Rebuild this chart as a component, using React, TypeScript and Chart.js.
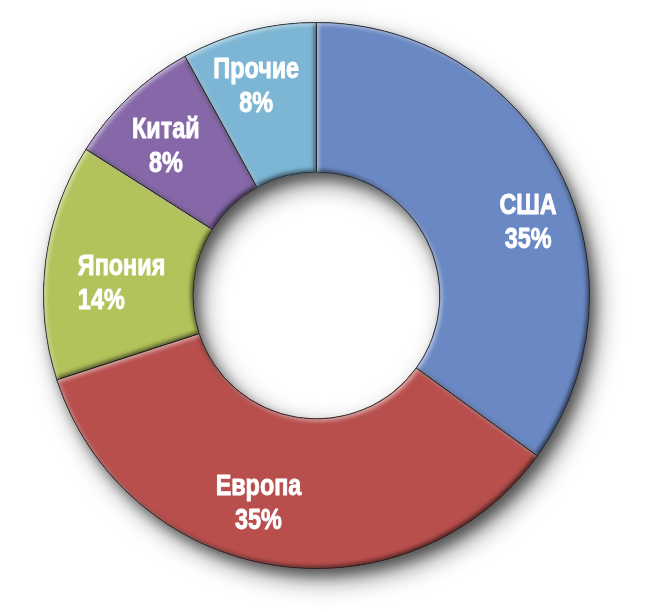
import React, { useEffect, useRef } from "react";
import { Chart, registerables } from "chart.js";

Chart.register(...registerables);

// ---- data ----
const categories = ["США", "Европа", "Япония", "Китай", "Прочие"];
const shares = [35, 35, 14, 8, 8];
const shareLabels = ["35%", "35%", "14%", "8%", "8%"];

// ---- styles ----
const sliceColors = ["#6A88C4", "#B84F4D", "#B3C25A", "#8668A8", "#7CB6D4"];
const sliceEdges = ["#3F5B8F", "#7C302E", "#6E7B2C", "#55406F", "#4B8099"];
const labelNudgeX = [35, -27, -42, -15, -11];
const labelNudgeY = [15, 10, 11, -7, -19];
const labelAlign: CanvasTextAlign[] = ["center", "center", "left", "center", "center"];
const LABEL_FONT = 'bold 30px "Liberation Sans", Arial, sans-serif';
const LABEL_SQUEEZE = 0.78;

function arcPath(ctx: CanvasRenderingContext2D, p: any) {
  ctx.moveTo(p.x + p.outerRadius * Math.cos(p.startAngle), p.y + p.outerRadius * Math.sin(p.startAngle));
  ctx.arc(p.x, p.y, p.outerRadius, p.startAngle, p.endAngle);
  ctx.arc(p.x, p.y, p.innerRadius, p.endAngle, p.startAngle, true);
  ctx.closePath();
}

const shadowRing = {
  id: "shadowRing",
  beforeDatasetsDraw(chart: any) {
    const meta = chart.getDatasetMeta(0);
    if (!meta.data.length) return;
    const p = meta.data[0].getProps(["x", "y", "innerRadius", "outerRadius"], true);
    const ctx: CanvasRenderingContext2D = chart.ctx;
    for (let k = 0; k < 2; k++) {
      ctx.save();
      ctx.beginPath();
      ctx.arc(p.x, p.y, p.outerRadius, 0, Math.PI * 2);
      ctx.moveTo(p.x + p.innerRadius, p.y);
      ctx.arc(p.x, p.y, p.innerRadius, 0, Math.PI * 2, true);
      ctx.shadowColor = k === 0 ? "rgba(0,0,0,0.5)" : "rgba(0,0,0,0.4)";
      ctx.shadowBlur = k === 0 ? 24 : 12;
      ctx.shadowOffsetX = k === 0 ? 8 : 5;
      ctx.shadowOffsetY = k === 0 ? 11 : 7;
      ctx.fillStyle = "#999";
      ctx.fill("evenodd");
      ctx.restore();
    }
  },
};

const bevel = {
  id: "bevel",
  afterDatasetsDraw(chart: any) {
    const meta = chart.getDatasetMeta(0);
    const ctx: CanvasRenderingContext2D = chart.ctx;
    meta.data.forEach((el: any) => {
      const p = el.getProps(["x", "y", "startAngle", "endAngle", "innerRadius", "outerRadius"], true);
      const passes = [
        { c: "rgba(0,0,0,0.6)", dx: -2, dy: -2, b: 4 },
        { c: "rgba(255,255,255,0.55)", dx: 2, dy: 2, b: 4 },
      ];
      passes.forEach((ps) => {
        ctx.save();
        ctx.beginPath();
        arcPath(ctx, p);
        ctx.clip();
        ctx.beginPath();
        ctx.rect(-2000, -2000, 5000, 5000);
        arcPath(ctx, p);
        ctx.shadowColor = ps.c;
        ctx.shadowBlur = ps.b;
        ctx.shadowOffsetX = ps.dx;
        ctx.shadowOffsetY = ps.dy;
        ctx.fillStyle = "#000";
        ctx.fill("evenodd");
        ctx.restore();
      });
      ctx.save();
      ctx.beginPath();
      arcPath(ctx, p);
      ctx.lineWidth = 1;
      ctx.strokeStyle = "rgba(40,40,40,0.55)";
      ctx.stroke();
      ctx.restore();
    });
  },
};

const sliceLabels = {
  id: "sliceLabels",
  afterDraw(chart: any) {
    const meta = chart.getDatasetMeta(0);
    const ctx: CanvasRenderingContext2D = chart.ctx;
    meta.data.forEach((el: any, i: number) => {
      const pos = el.tooltipPosition(true);
      const cx = pos.x + labelNudgeX[i];
      const cy = pos.y + labelNudgeY[i];
      const lines = [categories[i], shareLabels[i]];
      lines.forEach((txt, j) => {
        ctx.save();
        ctx.font = LABEL_FONT;
        ctx.fillStyle = "#ffffff";
        ctx.strokeStyle = "#ffffff";
        ctx.lineWidth = 0.9;
        ctx.lineJoin = "round";
        ctx.textBaseline = "alphabetic";
        ctx.textAlign = labelAlign[i];
        ctx.translate(cx, cy + (j === 0 ? -17 : 17) + 10.8);
        ctx.scale(LABEL_SQUEEZE, 1);
        ctx.fillText(txt, 0, 0);
        ctx.strokeText(txt, 0, 0);
        ctx.restore();
      });
    });
  },
};

export default function App() {
  const ref = useRef<HTMLCanvasElement | null>(null);
  useEffect(() => {
    if (!ref.current) return;
    const chart = new Chart(ref.current, {
      type: "doughnut",
      data: {
        labels: categories,
        datasets: [
          {
            data: shares,
            backgroundColor: sliceColors,
            borderColor: sliceEdges,
            borderWidth: 1,
          },
        ],
      },
      options: {
        responsive: false,
        devicePixelRatio: 1,
        animation: false,
        cutout: "45.2%",
        layout: { padding: { left: 43, top: 22, right: 63, bottom: 43 } },
        plugins: {
          legend: { display: false },
          tooltip: { enabled: false },
        },
      },
      plugins: [shadowRing, bevel, sliceLabels],
    });
    return () => chart.destroy();
  }, []);
  return (
    <div style={{ position: "absolute", left: 0, top: 0, width: 653, height: 612, background: "#fff" }}>
      <canvas ref={ref} width={653} height={612} style={{ width: 653, height: 612, display: "block" }} />
    </div>
  );
}
